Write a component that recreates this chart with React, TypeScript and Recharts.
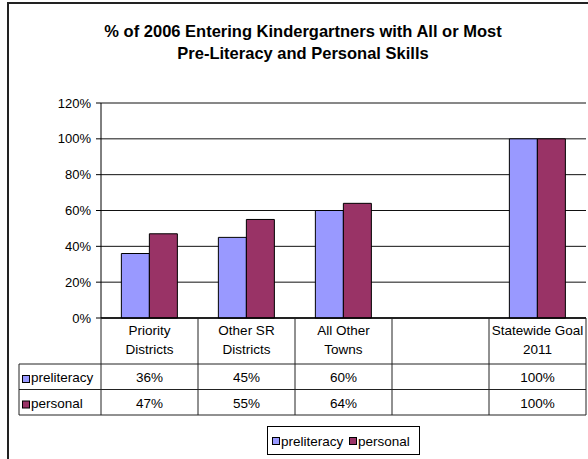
import React from "react";
import { BarChart, Bar, XAxis, YAxis, CartesianGrid, Legend } from "recharts";

const categoryLines: string[][] = [
  ["Priority", "Districts"],
  ["Other SR", "Districts"],
  ["All Other", "Towns"],
  ["", ""],
  ["Statewide Goal", "2011"],
];
const categoryKeys = ["Priority Districts", "Other SR Districts", "All Other Towns", "", "Statewide Goal 2011"];
const preliteracy: (number | null)[] = [0.36, 0.45, 0.6, null, 1.0];
const personal: (number | null)[] = [0.47, 0.55, 0.64, null, 1.0];
const yTicks = [0, 0.2, 0.4, 0.6, 0.8, 1.0, 1.2];
const seriesNames = ["preliteracy", "personal"];
const seriesColors = ["#9999FF", "#993366"];
const titleLines = ["% of 2006 Entering Kindergartners with All or Most", "Pre-Literacy and Personal Skills"];

const data = categoryKeys.map((c, i) => ({
  name: c || `blank${i}`,
  idx: i,
  preliteracy: preliteracy[i],
  personal: personal[i],
}));

const W = 588;
const H = 459;
const MARGIN = { top: 103, right: 2, bottom: 44, left: 0 };
const YAXIS_W = 101;
const XAXIS_H = 97;
const PLOT_W = W - MARGIN.left - MARGIN.right - YAXIS_W;
const BAND = PLOT_W / categoryKeys.length;
const ROW1 = 46;
const ROW2 = 71.5;
const FONT = "'Liberation Sans', Arial, sans-serif";
const FS = 13.5;
const LINE = "#222";

const pct = (v: number | null) => (v == null ? "" : `${Math.round(v * 100)}%`);

const TableTick = (props: any) => {
  const { x, y, payload } = props;
  const i: number = payload.index ?? data.findIndex((d) => d.name === payload.value);
  const x0 = x - BAND / 2;
  const x1 = x + BAND / 2;
  const rows = [preliteracy, personal];
  return (
    <g>
      <line x1={x1} y1={y} x2={x1} y2={y + XAXIS_H} stroke={LINE} strokeWidth={1} />
      {i === 0 && <line x1={x0} y1={y} x2={x0} y2={y + XAXIS_H} stroke={LINE} strokeWidth={1} />}
      <line x1={i === 0 ? 19 : x0} y1={y + ROW1} x2={x1} y2={y + ROW1} stroke={LINE} strokeWidth={1} />
      <line x1={i === 0 ? 19 : x0} y1={y + ROW2} x2={x1} y2={y + ROW2} stroke={LINE} strokeWidth={1} />
      <line x1={i === 0 ? 19 : x0} y1={y + XAXIS_H} x2={x1} y2={y + XAXIS_H} stroke={LINE} strokeWidth={1} />
      {i === 0 && <line x1={19} y1={y + ROW1} x2={19} y2={y + XAXIS_H} stroke={LINE} strokeWidth={1} />}
      {categoryLines[i].map((t, k) => (
        <text key={k} x={x} y={y + 17 + k * 18.5} textAnchor="middle" fontFamily={FONT} fontSize={FS} fill="#000">
          {t}
        </text>
      ))}
      {rows.map((r, k) => (
        <text key={"v" + k} x={x} y={y + 64 + k * 25.5} textAnchor="middle" fontFamily={FONT} fontSize={FS} fill="#000">
          {pct(r[i])}
        </text>
      ))}
      {i === 0 &&
        seriesNames.map((n, k) => (
          <g key={"h" + k}>
            <rect x={22.5} y={y + 57.5 + k * 25.5} width={7} height={7} fill={seriesColors[k]} stroke="#000" strokeWidth={1} />
            <text x={31} y={y + 64 + k * 25.5} fontFamily={FONT} fontSize={FS} fill="#000">
              {n}
            </text>
          </g>
        ))}
    </g>
  );
};

const LegendBox = (props: any) => {
  const payload: any[] = [...(props.payload || [])].sort(
    (a, b) => seriesNames.indexOf(a.value) - seriesNames.indexOf(b.value)
  );
  const offsets = [5, 82];
  return (
    <svg width={153} height={30} style={{ display: "block" }}>
      <rect x={0.5} y={0.5} width={152} height={28} fill="#fff" stroke="#000" strokeWidth={1} />
      {payload.map((p, k) => (
        <g key={k}>
          <rect x={offsets[k] + 0.5} y={11.5} width={7} height={7} fill={p.color} stroke="#000" strokeWidth={1} />
          <text x={offsets[k] + 9} y={19.5} fontFamily={FONT} fontSize={FS} fill="#000">
            {p.value}
          </text>
        </g>
      ))}
    </svg>
  );
};

export default function App() {
  return (
    <div style={{ position: "absolute", left: 0, top: 0, width: W, height: H, background: "#fff", overflow: "hidden" }}>
      <div
        style={{
          position: "absolute",
          left: 7,
          top: 2,
          width: W + 20,
          height: H + 20,
          borderLeft: "2px solid #222",
          borderTop: "2px solid #222",
          boxSizing: "border-box",
        }}
      />
      <div style={{ position: "absolute", left: 0, top: 0, width: W, height: H }}>
        <BarChart width={W} height={H} data={data} margin={MARGIN} barCategoryGap="21%" barGap={0}>
          <CartesianGrid vertical={false} stroke="#111" strokeWidth={1} />
          <XAxis
            dataKey="name"
            height={XAXIS_H}
            interval={0}
            tickLine={false}
            tickSize={0}
            tickMargin={0}
            axisLine={{ stroke: "#000", strokeWidth: 1.5 }}
            tick={<TableTick />}
          />
          <XAxis
            xAxisId="top"
            orientation="top"
            dataKey="name"
            height={0}
            tick={false}
            tickLine={false}
            axisLine={{ stroke: "#888" }}
          />
          <YAxis
            width={YAXIS_W}
            domain={[0, 1.2]}
            ticks={yTicks}
            tickFormatter={(v: number) => `${Math.round(v * 100)}%`}
            tickSize={5}
            tickMargin={5}
            tickLine={{ stroke: "#000" }}
            axisLine={{ stroke: "#000" }}
            tick={{ fontFamily: FONT, fontSize: 13, fill: "#000" }}
          />
          <YAxis yAxisId="right" orientation="right" width={0} tick={false} tickLine={false} axisLine={{ stroke: "#888" }} />
          <Legend
            layout="horizontal"
            verticalAlign="middle"
            align="center"
            content={<LegendBox />}
            wrapperStyle={{ position: "absolute", left: 267, top: 426, width: 153, height: 30 }}
          />
          <Bar dataKey="preliteracy" name={seriesNames[0]} fill={seriesColors[0]} stroke="#000" strokeWidth={1} isAnimationActive={false} />
          <Bar dataKey="personal" name={seriesNames[1]} fill={seriesColors[1]} stroke="#000" strokeWidth={1} isAnimationActive={false} />
        </BarChart>
      </div>
      <div
        style={{
          position: "absolute",
          left: 0,
          width: 606,
          top: 20,
          textAlign: "center",
          fontFamily: FONT,
          fontWeight: "bold",
          fontSize: 16.5,
          lineHeight: "22px",
          color: "#000",
        }}
      >
        {titleLines.map((t, k) => (
          <div key={k}>{t}</div>
        ))}
      </div>
    </div>
  );
}
